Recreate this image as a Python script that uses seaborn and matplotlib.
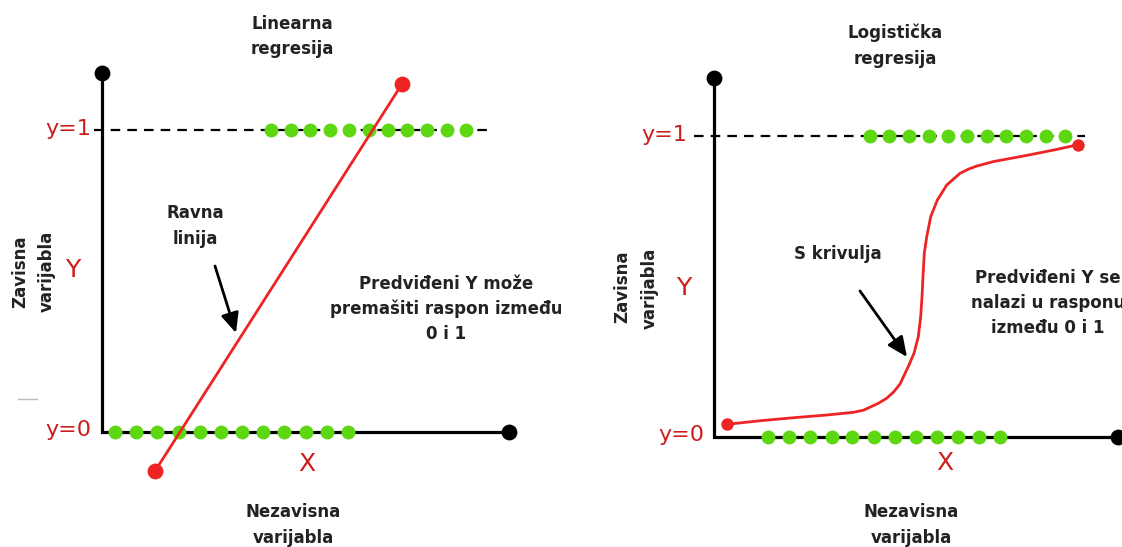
import numpy as np
import pandas as pd
import seaborn as sns
import matplotlib
matplotlib.use("Agg")
import matplotlib.pyplot as plt

# ---------------- data ----------------
# Left panel: linear regression
lin_green_y0_x = [0.32, 0.84, 1.36, 1.88, 2.40, 2.92, 3.44, 3.96, 4.48, 5.00, 5.53, 6.04]
lin_green_y1_x = [4.16, 4.64, 5.11, 5.59, 6.07, 6.55, 7.02, 7.50, 7.99, 8.47, 8.94]
lin_line_x = [1.30, 7.37]
lin_line_y = [-0.13, 1.152]

# Right panel: logistic regression
log_green_y0_x = [1.33, 1.85, 2.37, 2.91, 3.42, 3.95, 4.47, 5.00, 5.52, 6.04, 6.57, 7.08]
log_green_y1_x = [3.86, 4.34, 4.82, 5.31, 5.79, 6.27, 6.75, 7.24, 7.72, 8.21, 8.70]
log_curve_x = [0.314, 1.139, 1.963, 2.790, 3.448, 3.700, 3.861, 4.070, 4.275, 4.450,
               4.604, 4.809, 4.950, 5.057, 5.116, 5.149, 5.173, 5.205, 5.265, 5.364,
               5.527, 5.760, 6.089, 6.300, 6.502, 6.914, 7.720, 8.431, 9.007]
log_curve_y = [0.042, 0.054, 0.064, 0.073, 0.082, 0.089, 0.099, 0.112, 0.129, 0.150,
               0.176, 0.234, 0.278, 0.333, 0.400, 0.466, 0.533, 0.610, 0.665, 0.732,
               0.787, 0.837, 0.876, 0.890, 0.900, 0.915, 0.935, 0.954, 0.971]

titles = [["Linearna", "regresija"], ["Logistička", "regresija"]]
xlabels = ["Nezavisna", "varijabla"]
ylabels = ["Zavisna", "varijabla"]
note_lin = ["Predviđeni Y može", "premašiti raspon između", "0 i 1"]
note_log = ["Predviđeni Y se", "nalazi u rasponu", "između 0 i 1"]
arrow_lin = ["Ravna", "linija"]
arrow_log = ["S krivulja"]

# ---------------- style ----------------
sns.set_theme(style="white")
plt.rcParams["font.family"] = ["DejaVu Sans"]

W, H = 1122, 547
fig = plt.figure(figsize=(W / 100, H / 100), dpi=100)
fig.patch.set_facecolor("white")

GREEN = "#5cd712"
RED_LINE = "#ee2424"
RED_TXT = "#cc1d1d"
TXT = "#222222"

axL = fig.add_axes([0, 0, 561 / W, 1])
axR = fig.add_axes([561 / W, 0, 561 / W, 1])
axL.set_xlim(-102 / 40.7, (561 - 102) / 40.7)
axL.set_ylim(-(547 - 432) / 302, 432 / 302)
axR.set_xlim(-153 / 40.4, (1122 - 714) / 40.4)
axR.set_ylim(-(547 - 437) / 301, 437 / 301)


def fx(x, y):
    return (x / W, 1 - y / H)


def txt(ax, x, y, s, size=12, color=TXT, weight="bold", rot=0):
    ax.text(*fx(x, y), s, transform=fig.transFigure, ha="center", va="center",
            fontsize=size, color=color, fontweight=weight, rotation=rot,
            clip_on=True)


def panel(ax, g0, g1, top_y, dash_x, cx, cy, end_s):
    # axes lines
    ax.plot([0, 0, 10], [top_y, 0, 0], color="black", lw=2.3, zorder=2,
            solid_joinstyle="miter")
    ax.scatter([0, 10], [top_y, 0], s=130, color="black", zorder=3, linewidths=0)
    # dashed y=1 line
    ax.plot(dash_x, [1, 1], color="black", lw=1.6, dashes=(4.3, 3.2), zorder=2)
    # green points
    d0 = pd.DataFrame({"x": g0, "y": [0] * len(g0)})
    d1 = pd.DataFrame({"x": g1, "y": [1] * len(g1)})
    sns.scatterplot(data=d0, x="x", y="y", ax=ax, color=GREEN, s=100,
                    linewidth=0, zorder=4)
    sns.scatterplot(data=d1, x="x", y="y", ax=ax, color=GREEN, s=100,
                    linewidth=0, zorder=4)
    # red fit
    dc = pd.DataFrame({"x": cx, "y": cy})
    sns.lineplot(data=dc, x="x", y="y", ax=ax, sort=False, estimator=None,
                 color=RED_LINE, lw=2, zorder=5, solid_joinstyle="round")
    ax.scatter([cx[0], cx[-1]], [cy[0], cy[-1]], s=end_s, color=RED_LINE,
               zorder=6, linewidths=0)
    ax.set_axis_off()


panel(axL, lin_green_y0_x, lin_green_y1_x, 1.19, [-0.2, 9.46],
      lin_line_x, lin_line_y, 130)
panel(axR, log_green_y0_x, log_green_y1_x, 1.193, [-0.49, 9.18],
      log_curve_x, log_curve_y, 80)

# ---------------- texts: left ----------------
txt(axL, 292, 24, titles[0][0])
txt(axL, 292, 49, titles[0][1])
txt(axL, 293, 512, xlabels[0])
txt(axL, 293, 538, xlabels[1])
txt(axL, 20, 272, ylabels[0], rot=90)
txt(axL, 47, 271, ylabels[1], rot=90)
txt(axL, 68, 129, "y=1", size=16, color=RED_TXT, weight="normal")
txt(axL, 68, 430, "y=0", size=16, color=RED_TXT, weight="normal")
txt(axL, 73, 270, "Y", size=18, color=RED_TXT, weight="normal")
txt(axL, 307, 464, "X", size=18, color=RED_TXT, weight="normal")
txt(axL, 195, 213, arrow_lin[0])
txt(axL, 195, 239, arrow_lin[1])
for i, s in enumerate(note_lin):
    txt(axL, 446, 284 + 25 * i, s)
axL.annotate("", xy=fx(236, 333), xytext=fx(215, 266), xycoords=fig.transFigure,
             textcoords=fig.transFigure,
             arrowprops=dict(arrowstyle="-|>,head_length=1.0,head_width=0.45",
                             color="black", lw=2, shrinkA=0, shrinkB=0))
axL.plot(*zip(fx(18, 399), fx(37, 399)), transform=fig.transFigure,
         color="#bbbbbb", lw=1, clip_on=False)

# ---------------- texts: right ----------------
txt(axR, 895, 33, titles[1][0])
txt(axR, 895, 59, titles[1][1])
txt(axR, 911, 512, xlabels[0])
txt(axR, 911, 538, xlabels[1])
txt(axR, 622, 287, ylabels[0], rot=90)
txt(axR, 650, 288, ylabels[1], rot=90)
txt(axR, 664, 135, "y=1", size=16, color=RED_TXT, weight="normal")
txt(axR, 681, 435, "y=0", size=16, color=RED_TXT, weight="normal")
txt(axR, 684, 288, "Y", size=18, color=RED_TXT, weight="normal")
txt(axR, 945, 463, "X", size=18, color=RED_TXT, weight="normal")
txt(axR, 838, 254, arrow_log[0])
for i, s in enumerate(note_log):
    txt(axR, 1048, 278 + 25 * i, s)
axR.annotate("", xy=fx(907, 357), xytext=fx(860, 291), xycoords=fig.transFigure,
             textcoords=fig.transFigure,
             arrowprops=dict(arrowstyle="-|>,head_length=1.0,head_width=0.45",
                             color="black", lw=2, shrinkA=0, shrinkB=0))

fig.savefig("out.png", dpi=100, facecolor="white")
